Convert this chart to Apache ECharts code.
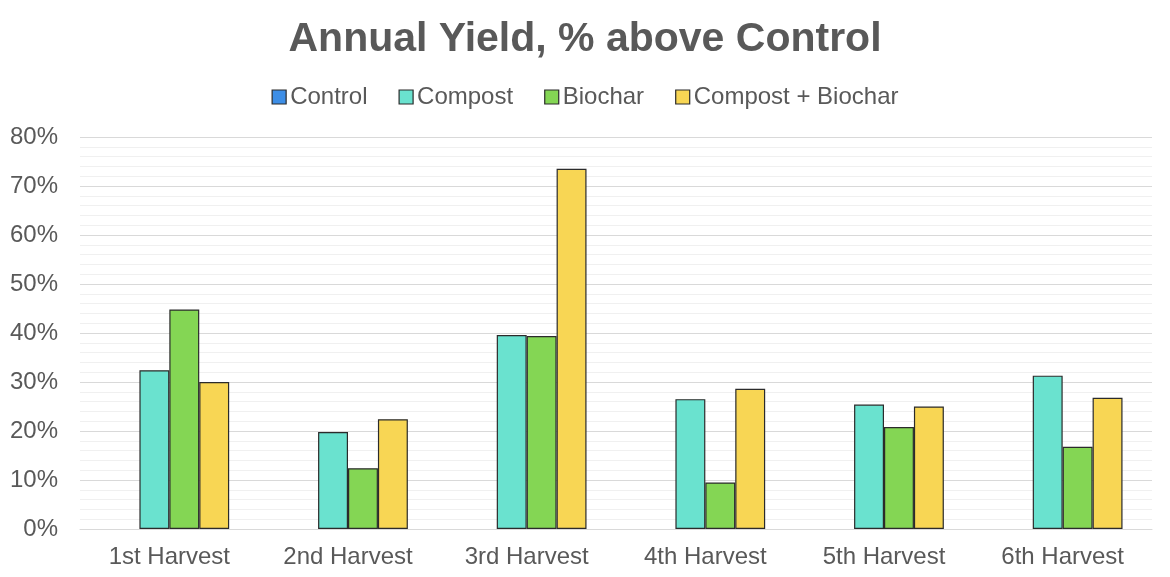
<!DOCTYPE html>
<html>
<head>
<meta charset="utf-8">
<script src="https://cdn.jsdelivr.net/npm/echarts@6/dist/echarts.min.js"></script>
<style>html,body{margin:0;padding:0;background:#fff}#c{width:1170px;height:577px}</style>
</head>
<body>
<div id="c"></div>
<script>
const categories = ['1st Harvest', '2nd Harvest', '3rd Harvest', '4th Harvest', '5th Harvest', '6th Harvest'];
const control = [0, 0, 0, 0, 0, 0];
const compost = [32.4, 19.8, 39.6, 26.5, 25.4, 31.3];
const biochar = [44.8, 12.4, 39.4, 9.5, 20.8, 16.8];
const compostBiochar = [30.0, 22.4, 73.5, 28.6, 25.0, 26.8];
const yTicks = [0, 10, 20, 30, 40, 50, 60, 70, 80];

const seriesDefs = [
  { name: 'Control', data: control, color: '#3d8ee6' },
  { name: 'Compost', data: compost, color: '#6ae2cf' },
  { name: 'Biochar', data: biochar, color: '#84d654' },
  { name: 'Compost + Biochar', data: compostBiochar, color: '#f8d654' }
];
const border = '#2b2b2b';

const chart = echarts.init(document.getElementById('c'));
chart.setOption({
  animation: false,
  backgroundColor: '#fff',
  title: {
    text: 'Annual Yield, % above Control',
    left: 'center', top: 14,
    textStyle: { fontFamily: 'Liberation Sans', fontWeight: 'bold', fontSize: 41, color: '#595959' }
  },
  legend: {
    top: 80, left: 'center',
    itemWidth: 14, itemHeight: 14, itemGap: 31,
    icon: 'rect',
    textStyle: { fontFamily: 'Liberation Sans', fontSize: 24, color: '#595959', padding: [0, 0, 0, -1] },
    data: seriesDefs.map(s => ({ name: s.name, itemStyle: { color: s.color, borderColor: border, borderWidth: 1.2 } }))
  },
  grid: { left: 80, right: 18, top: 137, bottom: 48, containLabel: false },
  xAxis: {
    type: 'category', data: categories,
    axisLine: { show: true, lineStyle: { color: '#d9d9d9', width: 1 } },
    axisTick: { show: false },
    axisLabel: { fontFamily: 'Liberation Sans', fontSize: 24, color: '#595959', margin: 16 }
  },
  yAxis: {
    type: 'value', min: yTicks[0], max: yTicks[yTicks.length - 1], interval: 10,
    axisLine: { show: false }, axisTick: { show: false },
    axisLabel: { fontFamily: 'Liberation Sans', fontSize: 24, color: '#595959', margin: 22, formatter: v => v + '%' },
    splitLine: { lineStyle: { color: '#d9d9d9', width: 1 } },
    minorTick: { show: false, splitNumber: 5 },
    minorSplitLine: { show: true, lineStyle: { color: '#f0f0f0', width: 1 } }
  },
  series: seriesDefs.map(s => ({
    name: s.name, type: 'bar', data: s.data,
    barGap: '0%', barCategoryGap: '33%',
    itemStyle: { color: s.color, borderColor: border, borderWidth: s.name === 'Control' ? 0 : 1.2 }
  }))
});
</script>
</body>
</html>
